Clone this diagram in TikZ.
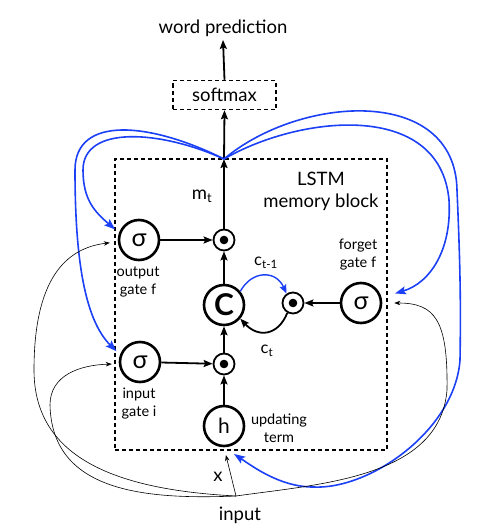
\documentclass[tikz,border=0pt]{standalone}
\usepackage{fontspec}
\setmainfont{Lato}
\usetikzlibrary{arrows.meta}
\definecolor{feedblue}{RGB}{28,64,245}

\begin{document}
\begin{tikzpicture}[x=1pt,y=-1pt,
  font=\fontsize{18.5}{22}\selectfont,
  gate/.style={draw,circle,line width=2.6pt,minimum size=40pt,inner sep=0pt,font=\fontsize{25}{25}\selectfont},
  mul/.style={draw,circle,line width=1.8pt,minimum size=21pt,inner sep=0pt,
    path picture={\fill (path picture bounding box.center) circle (4.3pt);}},
  dashbox/.style={draw,dash pattern=on 4pt off 3pt,line width=1.5pt,inner sep=0pt},
  flow/.style={line width=1.8pt,-{Stealth[length=9pt,width=7pt,inset=1.5pt]}},
  feed/.style={feedblue,line width=1.6pt,-{Stealth[length=11pt,width=8pt,inset=2pt]}},
  wire/.style={line width=0.6pt,-{Stealth[length=6pt,width=4.5pt]}},
  lbl/.style={font=\fontsize{14.5}{18}\selectfont},
  every node/.style={align=center}]

\useasboundingbox (0,0) rectangle (478,527);

%output layer
  \node (pred) at (223,28) {word prediction};
  \node[dashbox,minimum width=103pt,minimum height=29pt] (softmax) at (224.5,95) {softmax};

%memory block
  \node[dashbox,minimum width=272pt,minimum height=291pt] (block) at (251,304.5) {};
  \coordinate (tap) at (224,159);
  \node (title) at (321,191) {LSTM\\memory block};
  \node (mt) at (202,196) {m\textsubscript{t}};

%gates and cell
  \node[gate] (outgate) at (139,240) {σ};
  \node[gate] (ingate) at (140,362) {σ};
  \node[gate] (forgetgate) at (361,303) {σ};
  \node[gate,font=\fontsize{30}{30}\selectfont\bfseries] (cell) at (224,305) {C};
  \node[gate,font=\fontsize{21}{21}\selectfont] (upd) at (224,426) {h};
  \node[mul] (mulout) at (224,240) {};
  \node[mul] (mulf) at (293,303) {};
  \node[mul] (mulin) at (224,364) {};

%gate labels
  \node[lbl] (outlbl) at (138,282) {output\\gate f};
  \node[lbl] (forgetlbl) at (358,255) {forget\\gate f};
  \node[lbl] (inlbl) at (139,404) {input\\gate i};
  \node[lbl] (updlbl) at (279,428) {updating\\term};
  \node[lbl,font=\fontsize{16.5}{16.5}\selectfont] (cprev) at (266,263) {c\textsubscript{t-1}};
  \node[lbl,font=\fontsize{16.5}{16.5}\selectfont] (ccur) at (267,351) {c\textsubscript{t}};

%input
  \coordinate (src) at (236,496);
  \node (input) at (240,515) {input};
  \node (xlbl) at (218,477) {x};

%main flow
  \foreach \a/\b in {outgate/mulout, cell/mulout, mulin/cell, upd/mulin, ingate/mulin, forgetgate/mulf}
    \draw[flow] (\a) -- (\b);
  \draw[flow] (mulout) -- (tap);
  \draw[flow] (tap) -- (softmax.south);
  \draw[flow] (softmax.north) -- (pred.south);
  \draw[flow] (mulf.240) .. controls (278,336) and (258,338) .. (cell.-40);
  \draw[feed,line width=1.4pt,-{Stealth[length=9pt,width=7pt,inset=1.5pt]}]
    (cell.40) .. controls (252,270) and (276,270) .. (mulf.125);

%feedback of m_t
  \draw[feed,shorten >=5pt] (tap) .. controls (160,130) and (83,125) .. (83,170)
    .. controls (83,200) and (95,212) .. (outgate.160);
  \draw[feed,shorten >=5pt] (tap) .. controls (150,122) and (75,115) .. (75,170)
    .. controls (75,260) and (85,320) .. (ingate.160);
  \draw[feed,shorten >=14pt] (tap) .. controls (300,115) and (440,100) .. (449,200)
    .. controls (452,250) and (430,283) .. (forgetgate.15);
  \draw[feed,shorten >=12pt] (tap) .. controls (300,95) and (455,85) .. (457,190)
    .. controls (460,260) and (461,300) .. (460,360)
    .. controls (455,430) and (370,490) .. (313,487)
    .. controls (280,487) and (252,466) .. (upd.south);

%input wires
  \draw[wire,shorten >=8pt] (src) -- (upd.south);
  \draw[wire,shorten >=8pt] (src) .. controls (120,490) and (34,460) .. (34,370)
    .. controls (34,280) and (65,248) .. (outgate.185);
  \draw[wire,shorten >=7pt] (src) .. controls (140,500) and (52,490) .. (50,405)
    .. controls (50,375) and (80,365) .. (ingate.185);
  \draw[wire,shorten >=12pt] (src) .. controls (320,484) and (440,478) .. (447,390)
    .. controls (448,320) and (435,303) .. (forgetgate.east);

\end{tikzpicture}
\end{document}
